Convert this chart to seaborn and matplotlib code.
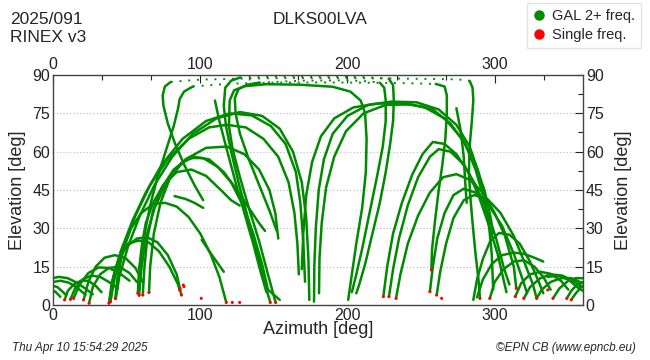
"""
Sky plot (azimuth / elevation) of GAL tracks for DLKS00LVA, 2025/091
"""
import numpy as np
import pandas as pd
import matplotlib
matplotlib.use('Agg')
import matplotlib.pyplot as plt
from matplotlib.lines import Line2D
import seaborn as sns

# ---- data: each track is a list of [azimuth, elevation] points ----
low_west = [
    [[0, 10.5], [4, 11], [10, 10.5], [17, 8.5], [23, 6], [27, 4.2]],
    [[0, 9], [5, 9.5], [11, 8.7], [17, 6.5], [22, 4]],
    [[0, 7.5], [3, 7], [6, 5.5], [9, 3.8]],
    [[0, 5.8], [2, 5], [5, 3.2]],
    [[7.9, 2], [10, 5.5], [14, 8], [19, 9.5], [24, 9.5], [29, 7.5], [33, 5]],
    [[11.8, 2.2], [15, 6.5], [20, 10], [26, 11.5], [32, 11], [38, 9], [44, 6.5]],
    [[14, 2.6], [18, 8], [24, 12.5], [31, 14.7], [38, 14.5], [45, 12.5], [52, 9.5]],
    [[20.8, 2], [24, 9], [29, 15], [35, 18.5], [42, 19.5], [49, 18.5], [56, 14.5], [61, 9]],
    [[24.5, 0.7], [27, 7], [32, 12], [38, 14.5], [45, 15], [52, 12.5], [57, 9]],
    [[38, 0.7], [40, 9], [44, 17], [50, 23], [57, 26], [64, 26.5], [71, 24.5], [78, 19.5], [84, 12], [87.2, 3.9]],
    [[39, 1.3], [41, 11], [45, 19], [51, 24], [58, 25.2], [65, 24.5], [72, 21], [79, 15], [85, 8], [86, 5.9]],
]

low_east = [
    [[285.5, 2], [288, 10], [292, 18], [297, 25], [303, 28.2], [310, 27.5], [317, 24], [324, 17], [330, 9], [333, 4.6]],
    [[288, 3], [292, 10], [298, 16], [305, 19.5], [313, 20.5], [320, 20], [327, 18.5], [333, 17]],
    [[296.7, 2.6], [300, 9], [306, 14], [313, 17], [320, 17.5], [327, 15], [333, 11], [338, 6]],
    [[314, 3.3], [318, 8.5], [324, 12], [331, 13], [338, 12.2], [345, 9.5], [350, 6]],
    [[319.8, 2.6], [324, 7], [331, 10.5], [338, 12], [346, 11.5], [353, 9.5], [360, 7]],
    [[328.5, 2.6], [332, 6], [338, 9], [345, 10.5], [352, 10.5], [358, 9], [360, 8.5]],
    [[339.6, 2.6], [344, 6.5], [350, 9.5], [355, 10.5], [360, 10.5]],
    [[349, 2.6], [352, 5.5], [356, 8], [360, 9]],
    [[352, 2], [355, 4.5], [358, 6.5], [360, 7.5]],
    [[336, 11], [343, 11.5], [350, 10], [356, 7], [360, 5.5]],
]

high_west = [
    [[42.3, 2.6], [44, 12], [48, 22], [53, 30], [60, 36], [68, 39.5], [76, 40], [84, 38.5], [92, 34.5],
     [100, 28], [107, 20], [113, 11], [117.7, 1]],
    [[57.7, 4.6], [58.5, 14], [60.5, 24], [63, 32], [68, 40], [75, 47], [84, 52], [94, 53], [104, 50.5],
     [114, 45], [121, 41], [126.8, 38.9]],
    [[61, 3.9], [62, 14], [64, 26], [68, 37], [74, 46], [82, 53], [92, 57.5], [102, 57.5], [112, 54],
     [121, 48], [129, 39], [136, 28], [142, 16], [146, 6], [154, 2]],
    [[65.2, 4.9], [66, 15], [68.5, 28], [73, 40], [79, 49], [87, 55.5], [96, 58], [106, 57], [116, 52],
     [125, 45], [133, 38], [140, 32], [144, 29]],
    [[58.5, 3.8], [60, 14], [63, 26], [69, 38], [78, 49], [90, 57], [104, 61.5], [118, 62], [130, 59],
     [140, 53], [147, 45], [151, 36], [153, 26]],
    [[39, 1.3], [42, 11], [48, 23], [56, 35], [66, 47], [78, 57], [92, 65], [106, 69.5], [118, 70.5],
     [131, 69.5], [143, 65], [153, 58], [160, 48], [164, 36], [166, 24], [167, 12]],
    [[38.3, 0.8], [40.5, 9], [46, 21], [54, 33], [63, 44], [74, 55], [88, 65], [104, 72], [120, 75],
     [135, 74.2], [148, 70], [158, 63], [165, 52], [168, 40], [170, 25], [171.2, 9.1]],
    [[42.6, 2.3], [45, 11], [51, 23], [59, 35], [69, 47], [81, 58], [95, 67], [111, 73], [127, 75.5],
     [142, 74], [154, 69], [163, 60], [169, 48], [172, 34], [173.5, 18], [174.1, 2]],
]

high_east = [
    [[177.3, 1.3], [177.5, 15], [178.5, 30], [180.5, 45], [184, 57], [190, 67], [200, 74], [214, 78.3],
     [230, 79.6], [247, 79.3], [262, 76.5], [274, 70.5], [283, 62], [289, 52], [293, 42], [296, 32],
     [298, 20], [299, 6]],
    [[180.7, 4.6], [181, 18], [182.5, 32], [185.5, 46], [191, 58], [199, 68], [211, 75], [226, 78.3],
     [243, 78.5], [258, 76.5], [270, 71], [280, 63], [287, 53], [292, 43], [295, 34]],
    [[169, 14], [170, 28], [172, 43], [176, 56], [182, 66], [191, 73], [204, 77.3], [220, 78.8],
     [236, 79], [252, 77.5], [266, 73], [278, 65], [287, 55], [293, 45], [297, 35], [299, 28]],
    [[224.4, 3.3], [227, 15], [231, 28], [237, 40], [244, 51], [251, 59], [258, 63.8], [266, 63],
     [274, 59], [282, 52], [289, 43], [295, 33], [302, 20], [306, 10], [308, 5]],
    [[228.2, 3.3], [231, 14], [235, 26], [241, 39], [248, 50], [256, 58], [262, 61], [270, 60],
     [279, 55], [287, 47], [294, 38], [301, 26], [306, 15], [310, 8]],
    [[233, 2.6], [236, 12], [241, 24], [248, 35], [256, 44], [265, 50], [274, 51.2], [283, 49],
     [292, 44], [300, 36], [307, 27], [313, 15], [314.7, 6.5]],
    [[256, 5.2], [258, 15], [261, 26], [266, 36], [272, 43], [279, 45.5], [287, 44], [296, 39],
     [305, 31], [313, 20], [319, 10], [322, 4.6]],
    [[260.6, 3.9], [263, 13], [267, 24], [272, 34], [279, 41], [286, 43], [295, 41.5], [304, 36],
     [313, 27], [320, 17], [326, 8], [328.5, 2.6]],
]

# near-zenith passes: rising leg, dotted top, setting leg
zenith_rise = [
    [[102, 41], [96, 47], [89, 55], [83, 63], [78, 71], [75, 78], [74.5, 82], [76, 85.5], [80, 87.3]],
    [[57.7, 4.6], [59, 15], [62, 27], [66, 39], [71, 50], [77, 61], [82, 70], [85, 77], [86, 80.5],
     [89, 83.5], [95, 85.5]],
    [[147.6, 1], [143, 10], [138, 22], [132, 35], [126, 48], [121, 60], [117.5, 70], [116, 78],
     [117, 85], [121, 87.8], [127, 89]],
    [[152, 29], [147, 37], [140, 47], [133, 57], [127, 67], [124, 75], [123.5, 81], [126, 84.5],
     [132, 86.2], [140, 87]],
]
zenith_top = [
    [[80, 87.3], [100, 88.2], [130, 88.6], [160, 88.8], [190, 88.8], [220, 88.7], [250, 88.5],
     [275, 88.3], [283, 87.7]],
    [[95, 85.5], [120, 86.6], [150, 87], [180, 87.1], [210, 87], [240, 86.8], [260, 86.5]],
    [[127, 89], [150, 89.3], [180, 89.4], [210, 89.2], [228, 88.6]],
    [[140, 87], [170, 87.8], [200, 87.9], [215, 87.5], [222, 87]],
]
zenith_set = [
    [[283, 87.7], [285, 85], [285.5, 80], [284.5, 72], [283, 62], [282.5, 52], [283.5, 42], [285, 32],
     [287, 20], [289, 10], [290, 2.6]],
    [[260, 86.5], [266, 85.5], [267.5, 82], [267.5, 75], [266.5, 65], [264.5, 55], [262, 45],
     [259.5, 33], [257.5, 22], [257, 13.7]],
    [[228, 88.6], [231, 86], [231.5, 80], [231, 72], [229, 63], [226, 52], [222, 40], [217, 28],
     [212, 16], [208, 8], [206, 4.6]],
    [[222, 87], [225, 85], [226, 80], [226, 72], [224, 62], [220, 50], [215, 36], [210, 22],
     [206, 12], [203, 5]],
]
zenith_solid = [
    [[151.2, 1], [146, 12], [140, 25], [133, 38], [127, 50], [122, 61], [119.5, 70], [120, 80],
     [123, 84], [130, 85.6], [145, 86.4], [168, 86.2], [190, 85.4], [202, 83.5], [209, 80], [212, 75],
     [213, 65], [212.5, 52], [210, 38], [206, 24], [203, 12], [200.5, 2]],
]

fragments = [
    [[82.6, 42.6], [90, 41.5], [96, 40], [102, 38]],
    [[101, 25.5], [108, 19.5], [116, 13]],
    [[110, 80], [113, 72], [118, 61], [124, 48], [130, 36], [136, 24], [141, 13], [145, 5]],
    [[274, 77], [277, 68], [279, 58], [280, 48], [281, 40]],
]

red_az = [7.9, 11.8, 14, 20.8, 24.5, 38, 39, 42.3, 57.7, 58.5, 61, 65.2, 86, 86.3, 87.2, 88.5, 89,
          100.7, 117.7, 121.8, 126.8, 147.6, 151.2, 224.4, 228.2, 233, 256, 257, 260.6, 264, 290,
          296.7, 314, 314.7, 319.8, 328.5, 336, 339.6, 349, 352]
red_el = [2, 2.2, 2.6, 2, 0.7, 0.7, 1.3, 2.6, 4.6, 3.8, 3.9, 4.9, 5.9, 6.5, 3.9, 7.8, 7.2,
          2.6, 1, 1, 1, 1, 1, 3.3, 3.3, 2.6, 5.2, 13.7, 3.9, 2.6, 2.6,
          2.6, 3.3, 6.5, 2.6, 2.6, 5.9, 2.6, 2.6, 2]

GREEN = '#008a00'


def to_frame(*groups):
    rows = []
    tid = 0
    for group in groups:
        for track in group:
            for az, el in track:
                rows.append((tid, az, el))
            tid += 1
    return pd.DataFrame(rows, columns=['track', 'az', 'el'])


solid = to_frame(low_west, low_east, high_west, high_east, zenith_rise, zenith_set,
                 zenith_solid, fragments)
dotted = to_frame(zenith_top)

sns.set_style('white')
plt.rcParams['font.family'] = ['Liberation Sans', 'DejaVu Sans']

fig = plt.figure(figsize=(6.5, 3.6), dpi=100)
ax = fig.add_axes([53 / 650, 55 / 360, 530 / 650, 230 / 360])

sns.lineplot(data=solid, x='az', y='el', units='track', estimator=None, sort=False,
             color=GREEN, lw=1.8, ax=ax)
sns.lineplot(data=dotted, x='az', y='el', units='track', estimator=None, sort=False,
             color=GREEN, lw=1.4, linestyle=(0, (1, 3.5)), ax=ax)
sns.scatterplot(x=red_az, y=red_el, color='red', s=5, edgecolor='none', zorder=3, ax=ax)

ax.set_xlim(0, 360)
ax.set_ylim(0, 90)
ax.set_xticks([0, 100, 200, 300])
ax.set_xticks([100 / 3 * i for i in range(1, 11) if i % 3], minor=True)
ax.set_yticks(range(0, 91, 15))
ax.set_yticks([7.5 + 15 * i for i in range(6)], minor=True)
ax.tick_params(which='both', direction='in', top=True, right=True, labeltop=True,
               labelright=True, labelsize=11.5, colors='#222222', pad=2)
ax.tick_params(which='major', length=6, width=0.8)
ax.tick_params(which='minor', length=3.5, width=0.8)
ax.yaxis.grid(True, which='major', linestyle=(0, (1, 2)), color='#bbbbbb', lw=0.8)
ax.set_axisbelow(True)
for sp in ax.spines.values():
    sp.set_color('#444444')
    sp.set_linewidth(1.0)
ax.set_xlabel('')
ax.set_ylabel('')

fig.text(318 / 650, 1 - 330 / 360, 'Azimuth [deg]', ha='center', va='center', fontsize=13)
fig.text(18 / 650, 1 - 190 / 360, 'Elevation [deg]', ha='center', va='center', fontsize=13,
         rotation=90)
fig.text(623 / 650, 1 - 190 / 360, 'Elevation [deg]', ha='center', va='center', fontsize=13,
         rotation=90)
fig.text(320 / 650, 1 - 19 / 360, 'DLKS00LVA', ha='center', va='center', fontsize=12.5)
fig.text(10 / 650, 1 - 19 / 360, '2025/091', ha='left', va='center', fontsize=12.5)
fig.text(10 / 650, 1 - 37 / 360, 'RINEX v3', ha='left', va='center', fontsize=12.5)
fig.text(12 / 650, 1 - 348 / 360, 'Thu Apr 10 15:54:29 2025', ha='left', va='center',
         fontsize=8.5, style='italic')
fig.text(636 / 650, 1 - 348 / 360, '\u00a9EPN CB (www.epncb.eu)', ha='right', va='center',
         fontsize=8.5, style='italic')

handles = [Line2D([], [], marker='o', ls='', color='#008a00', markersize=6.5),
           Line2D([], [], marker='o', ls='', color='red', markersize=6.5)]
leg = fig.legend(handles, ['GAL 2+ freq.', 'Single freq.'], loc='upper right',
                 bbox_to_anchor=(641 / 650, 1 - 3 / 360), fontsize=10.5, frameon=True,
                 fancybox=False, edgecolor='#dddddd', handlelength=0.8, handletextpad=0.5,
                 borderpad=0.4, labelspacing=0.35, borderaxespad=0)

fig.savefig('out.png', dpi=100)
